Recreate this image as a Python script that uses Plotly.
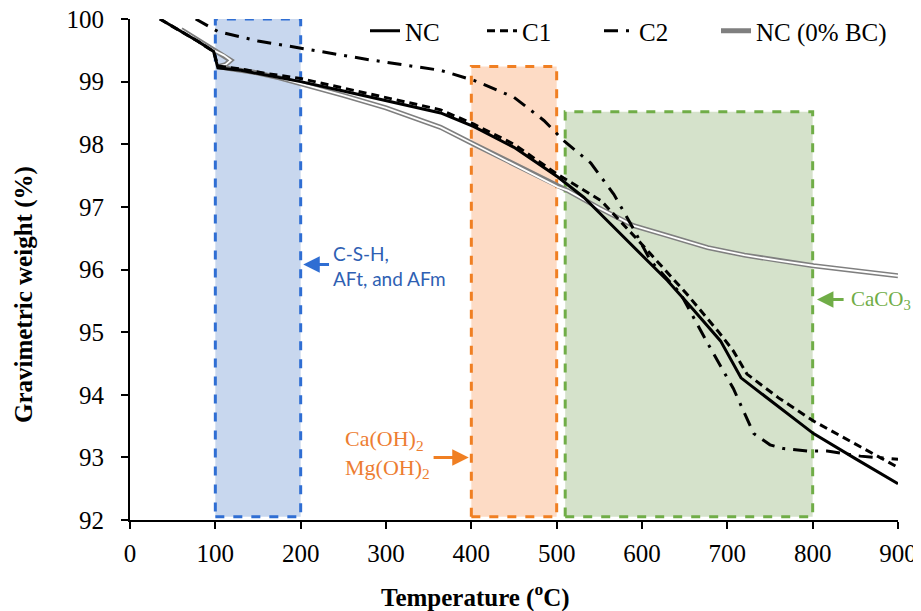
import plotly.graph_objects as go

# ---------------- data ----------------
nc_x = [35, 60, 80, 98, 103, 130, 160, 200, 250, 300, 364, 403, 450, 501, 532, 560, 600, 630, 660, 692, 716, 750, 801, 850, 900]
nc_y = [100.0, 99.8, 99.64, 99.48, 99.22, 99.18, 99.1, 99.0, 98.85, 98.7, 98.5, 98.28, 97.95, 97.48, 97.15, 96.77, 96.23, 95.82, 95.36, 94.86, 94.27, 93.91, 93.38, 92.98, 92.58]

c1_x = [35, 60, 80, 98, 103, 130, 160, 200, 250, 300, 364, 403, 450, 501, 552, 600, 653, 690, 707, 723, 760, 801, 850, 900]
c1_y = [100.0, 99.8, 99.64, 99.48, 99.25, 99.2, 99.13, 99.05, 98.9, 98.75, 98.55, 98.32, 98.0, 97.52, 97.1, 96.4, 95.6, 95.0, 94.7, 94.33, 93.95, 93.58, 93.22, 92.84]

c2_x = [77, 103, 150, 203, 280, 364, 403, 450, 485, 508, 540, 567, 590, 610, 645, 677, 707, 731, 750, 766, 794, 817, 856, 900]
c2_y = [100.0, 99.8, 99.65, 99.53, 99.35, 99.18, 99.02, 98.75, 98.38, 98.06, 97.7, 97.2, 96.65, 96.14, 95.62, 94.82, 94.1, 93.38, 93.2, 93.14, 93.1, 93.1, 93.02, 92.97]

nc0_x = [60, 66, 85, 98, 110, 118, 112, 103, 120, 145, 175, 203, 250, 300, 364, 403, 450, 501, 513, 550, 590, 630, 677, 720, 760, 801, 850, 900]
nc0_y = [99.83, 99.78, 99.62, 99.5, 99.42, 99.34, 99.27, 99.24, 99.2, 99.15, 99.06, 98.96, 98.78, 98.58, 98.27, 98.0, 97.68, 97.32, 97.26, 96.98, 96.7, 96.54, 96.35, 96.23, 96.14, 96.06, 95.98, 95.9]

series_names = ["NC", "C1", "C2", "NC (0% BC)"]

# highlighted temperature regions: (x0, x1, top)
regions_x0 = [100, 400, 510]
regions_x1 = [200, 500, 800]
regions_top = [100.0, 99.24, 98.52]
region_fill = ["#c8d7ee", "#fddbc5", "#d5e2cb"]
region_line = ["#2f6ed3", "#f07f22", "#70ad47"]

x_ticks = [0, 100, 200, 300, 400, 500, 600, 700, 800, 900]
y_ticks = [92, 93, 94, 95, 96, 97, 98, 99, 100]

SERIF = "Liberation Serif"
# the page body has an 8px margin, so the figure is 8px smaller than the window
W, H = 913, 603

fig = go.Figure()

# NC (0% BC): double line (gray outline + white core)
fig.add_trace(go.Scatter(x=nc0_x, y=nc0_y, mode="lines", name=series_names[3], legend="legend4",
                         line=dict(color="#7f7f7f", width=5)))
fig.add_trace(go.Scatter(x=nc0_x, y=nc0_y, mode="lines", showlegend=False, hoverinfo="skip",
                         line=dict(color="white", width=1.8)))

fig.add_trace(go.Scatter(x=nc_x, y=nc_y, mode="lines", name=series_names[0], legend="legend",
                         line=dict(color="black", width=3)))
fig.add_trace(go.Scatter(x=c1_x, y=c1_y, mode="lines", name=series_names[1], legend="legend2",
                         line=dict(color="black", width=3, dash="8px,5px")))
fig.add_trace(go.Scatter(x=c2_x, y=c2_y, mode="lines", name=series_names[2], legend="legend3",
                         line=dict(color="black", width=3, dash="14px,8px,3px,8px")))

for x0, x1, top, fc, lc in zip(regions_x0, regions_x1, regions_top, region_fill, region_line):
    fig.add_shape(type="rect", xref="x", yref="y", x0=x0, x1=x1, y0=92.05, y1=top,
                  fillcolor=fc, line=dict(color=lc, width=3, dash="dash"), layer="below")

# annotations: text
fig.add_annotation(x=236, y=96.06, xref="x", yref="y", xanchor="left", yanchor="middle",
                   text="C-S-H,<br>AFt, and AFm", showarrow=False, align="left",
                   font=dict(family="Lato", size=19, color="#2f5fb3"))
fig.add_annotation(x=250, y=93.06, xref="x", yref="y", xanchor="left", yanchor="middle",
                   text="Ca(OH)<sub>2</sub><br>Mg(OH)<sub>2</sub>", showarrow=False, align="left",
                   font=dict(family=SERIF, size=22, color="#ed7d31"))
fig.add_annotation(x=843, y=95.52, xref="x", yref="y", xanchor="left", yanchor="middle",
                   text="CaCO<sub>3</sub>", showarrow=False,
                   font=dict(family=SERIF, size=21, color="#70ad47"))

# arrows
def arrow(xh, yh, xt, color):
    fig.add_annotation(x=xh, y=yh, ax=xt, ay=yh, xref="x", yref="y", axref="x", ayref="y",
                       text="", showarrow=True, arrowhead=2, arrowsize=1.1, arrowwidth=3,
                       arrowcolor=color, standoff=0, startstandoff=0)

arrow(203, 96.08, 235, "#2f6ed3")
arrow(397, 93.0, 354, "#f07f22")
arrow(805, 95.52, 838, "#70ad47")

# axis titles as annotations (placed as in the reference)
fig.add_annotation(x=404.5, y=-0.150, xref="x", yref="paper", xanchor="center", yanchor="middle",
                   text="<b>Temperature (<sup>o</sup>C)</b>", showarrow=False,
                   font=dict(family=SERIF, size=25, color="black"))
fig.add_annotation(x=-0.138, y=0.449, xref="paper", yref="paper", xanchor="center", yanchor="middle",
                   text="<b>Gravimetric weight (%)</b>", showarrow=False, textangle=-90,
                   font=dict(family=SERIF, size=25, color="black"))

legend_px = [357, 474, 591, 708]
leg_common = dict(orientation="h", xref="container", yref="container", xanchor="left",
                  y=1 - 23 / H, yanchor="middle", bgcolor="rgba(0,0,0,0)",
                  font=dict(family=SERIF, size=25, color="black"), itemwidth=30)

fig.update_layout(
    width=W, height=H,
    margin=dict(l=122, r=23, t=11, b=91, autoexpand=False),
    plot_bgcolor="white", paper_bgcolor="white",
    font=dict(family=SERIF, size=25, color="black"),
    showlegend=True,
    legend=dict(x=legend_px[0] / W, **leg_common),
    legend2=dict(x=legend_px[1] / W, **leg_common),
    legend3=dict(x=legend_px[2] / W, **leg_common),
    legend4=dict(x=legend_px[3] / W, **leg_common),
)
fig.update_xaxes(range=[0, 900], tickvals=x_ticks, ticktext=[str(v) for v in x_ticks],
                 showline=True, linecolor="black", linewidth=2, ticks="outside", ticklen=7,
                 tickwidth=2, tickcolor="black", showgrid=False, zeroline=False, automargin=False,
                 ticklabeloverflow="allow",
                 tickfont=dict(family=SERIF, size=25, color="black"), ticklabelstandoff=3)
fig.update_yaxes(range=[92, 100], tickvals=y_ticks, ticktext=[str(v) for v in y_ticks],
                 showline=True, linecolor="black", linewidth=2, ticks="outside", ticklen=7,
                 tickwidth=2, tickcolor="black", showgrid=False, zeroline=False, automargin=False,
                 ticklabeloverflow="allow",
                 tickfont=dict(family=SERIF, size=25, color="black"), ticklabelstandoff=12)

fig.write_html("out.html")
